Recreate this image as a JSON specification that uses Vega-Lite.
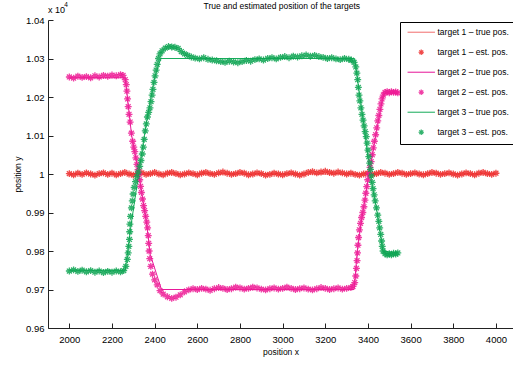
{
 "$schema": "https://vega.github.io/schema/vega-lite/v6.json",
 "width": 465,
 "height": 308,
 "autosize": {"type": "none"},
 "padding": {"left": 48, "top": 20, "right": 0, "bottom": 40},
 "background": "white",
 "config": {
  "view": {"stroke": null},
  "font": "Liberation Sans",
  "axis": {"domainColor": "#222222", "tickColor": "#222222", "labelColor": "black", "titleColor": "black", "labelFont": "Liberation Sans", "titleFont": "Liberation Sans", "labelFontSize": 9.5, "titleFontSize": 8.5, "titleFontWeight": "normal", "grid": false, "tickSize": -5, "domainWidth": 1, "tickWidth": 1, "labelOverlap": false}
 },
 "datasets": {
  "truth": [
   {"s": "t1", "x": 2000, "y": 10000}, {"s": "t1", "x": 4000, "y": 10000},
   {"s": "t2", "x": 2000, "y": 10250}, {"s": "t2", "x": 2262, "y": 10250}, {"s": "t2", "x": 2292, "y": 10100}, {"s": "t2", "x": 2326, "y": 10000}, {"s": "t2", "x": 2360, "y": 9880}, {"s": "t2", "x": 2380, "y": 9790}, {"s": "t2", "x": 2432, "y": 9700}, {"s": "t2", "x": 3335, "y": 9700}, {"s": "t2", "x": 3350, "y": 9800}, {"s": "t2", "x": 3370, "y": 9880}, {"s": "t2", "x": 3405, "y": 10000}, {"s": "t2", "x": 3440, "y": 10110}, {"s": "t2", "x": 3470, "y": 10200}, {"s": "t2", "x": 3478, "y": 10210}, {"s": "t2", "x": 3540, "y": 10210},
   {"s": "t3", "x": 2000, "y": 9750}, {"s": "t3", "x": 2262, "y": 9750}, {"s": "t3", "x": 2290, "y": 9870}, {"s": "t3", "x": 2325, "y": 10000}, {"s": "t3", "x": 2360, "y": 10130}, {"s": "t3", "x": 2400, "y": 10250}, {"s": "t3", "x": 2428, "y": 10300}, {"s": "t3", "x": 3338, "y": 10300}, {"s": "t3", "x": 3355, "y": 10230}, {"s": "t3", "x": 3380, "y": 10130}, {"s": "t3", "x": 3410, "y": 10000}, {"s": "t3", "x": 3440, "y": 9910}, {"s": "t3", "x": 3470, "y": 9800}, {"s": "t3", "x": 3540, "y": 9795}
  ],
  "est": [
   {"s": "e1", "x": 2000, "y": 10001}, {"s": "e1", "x": 2020, "y": 9998}, {"s": "e1", "x": 2040, "y": 10002}, {"s": "e1", "x": 2060, "y": 9999}, {"s": "e1", "x": 2080, "y": 10003}, {"s": "e1", "x": 2100, "y": 10000}, {"s": "e1", "x": 2120, "y": 9997}, {"s": "e1", "x": 2140, "y": 10001}, {"s": "e1", "x": 2160, "y": 10003}, {"s": "e1", "x": 2180, "y": 9999}, {"s": "e1", "x": 2200, "y": 10002}, {"s": "e1", "x": 2220, "y": 9998}, {"s": "e1", "x": 2240, "y": 10001}, {"s": "e1", "x": 2260, "y": 10004}, {"s": "e1", "x": 2280, "y": 10000}, {"s": "e1", "x": 2300, "y": 9997}, {"s": "e1", "x": 2320, "y": 10001}, {"s": "e1", "x": 2340, "y": 10003}, {"s": "e1", "x": 2360, "y": 9999}, {"s": "e1", "x": 2380, "y": 10001}, {"s": "e1", "x": 2400, "y": 10004}, {"s": "e1", "x": 2420, "y": 10000}, {"s": "e1", "x": 2440, "y": 9998}, {"s": "e1", "x": 2460, "y": 10002}, {"s": "e1", "x": 2480, "y": 10004}, {"s": "e1", "x": 2500, "y": 10001}, {"s": "e1", "x": 2520, "y": 9998}, {"s": "e1", "x": 2540, "y": 10000}, {"s": "e1", "x": 2560, "y": 10003}, {"s": "e1", "x": 2580, "y": 10001}, {"s": "e1", "x": 2600, "y": 9998}, {"s": "e1", "x": 2620, "y": 10002}, {"s": "e1", "x": 2640, "y": 10004}, {"s": "e1", "x": 2660, "y": 10001}, {"s": "e1", "x": 2680, "y": 9999}, {"s": "e1", "x": 2700, "y": 10003}, {"s": "e1", "x": 2720, "y": 10005}, {"s": "e1", "x": 2740, "y": 10002}, {"s": "e1", "x": 2760, "y": 9999}, {"s": "e1", "x": 2780, "y": 10001}, {"s": "e1", "x": 2800, "y": 10004}, {"s": "e1", "x": 2820, "y": 10002}, {"s": "e1", "x": 2840, "y": 9998}, {"s": "e1", "x": 2860, "y": 10000}, {"s": "e1", "x": 2880, "y": 10003}, {"s": "e1", "x": 2900, "y": 10001}, {"s": "e1", "x": 2920, "y": 9997}, {"s": "e1", "x": 2940, "y": 9999}, {"s": "e1", "x": 2960, "y": 10002}, {"s": "e1", "x": 2980, "y": 10000}, {"s": "e1", "x": 3000, "y": 9998}, {"s": "e1", "x": 3020, "y": 10001}, {"s": "e1", "x": 3040, "y": 10003}, {"s": "e1", "x": 3060, "y": 10000}, {"s": "e1", "x": 3080, "y": 9997}, {"s": "e1", "x": 3100, "y": 10000}, {"s": "e1", "x": 3120, "y": 10004}, {"s": "e1", "x": 3140, "y": 10006}, {"s": "e1", "x": 3160, "y": 10003}, {"s": "e1", "x": 3180, "y": 10005}, {"s": "e1", "x": 3200, "y": 10007}, {"s": "e1", "x": 3220, "y": 10004}, {"s": "e1", "x": 3240, "y": 10002}, {"s": "e1", "x": 3260, "y": 10005}, {"s": "e1", "x": 3280, "y": 10003}, {"s": "e1", "x": 3300, "y": 10000}, {"s": "e1", "x": 3320, "y": 10002}, {"s": "e1", "x": 3340, "y": 9999}, {"s": "e1", "x": 3360, "y": 9997}, {"s": "e1", "x": 3380, "y": 10000}, {"s": "e1", "x": 3400, "y": 10002}, {"s": "e1", "x": 3420, "y": 9999}, {"s": "e1", "x": 3440, "y": 10001}, {"s": "e1", "x": 3460, "y": 10004}, {"s": "e1", "x": 3480, "y": 10002}, {"s": "e1", "x": 3500, "y": 9999}, {"s": "e1", "x": 3520, "y": 10001}, {"s": "e1", "x": 3540, "y": 10004}, {"s": "e1", "x": 3560, "y": 10002}, {"s": "e1", "x": 3580, "y": 9999}, {"s": "e1", "x": 3600, "y": 10001}, {"s": "e1", "x": 3620, "y": 10003}, {"s": "e1", "x": 3640, "y": 10000}, {"s": "e1", "x": 3660, "y": 9998}, {"s": "e1", "x": 3680, "y": 10001}, {"s": "e1", "x": 3700, "y": 10004}, {"s": "e1", "x": 3720, "y": 10002}, {"s": "e1", "x": 3740, "y": 9999}, {"s": "e1", "x": 3760, "y": 10001}, {"s": "e1", "x": 3780, "y": 10003}, {"s": "e1", "x": 3800, "y": 10000}, {"s": "e1", "x": 3820, "y": 9997}, {"s": "e1", "x": 3840, "y": 10000}, {"s": "e1", "x": 3860, "y": 10003}, {"s": "e1", "x": 3880, "y": 10001}, {"s": "e1", "x": 3900, "y": 9998}, {"s": "e1", "x": 3920, "y": 10002}, {"s": "e1", "x": 3940, "y": 10004}, {"s": "e1", "x": 3960, "y": 10001}, {"s": "e1", "x": 3980, "y": 9999}, {"s": "e1", "x": 4000, "y": 10002},
   {"s": "e2", "x": 2000, "y": 10252}, {"s": "e2", "x": 2020, "y": 10249}, {"s": "e2", "x": 2040, "y": 10254}, {"s": "e2", "x": 2060, "y": 10251}, {"s": "e2", "x": 2080, "y": 10253}, {"s": "e2", "x": 2100, "y": 10250}, {"s": "e2", "x": 2120, "y": 10255}, {"s": "e2", "x": 2140, "y": 10252}, {"s": "e2", "x": 2160, "y": 10256}, {"s": "e2", "x": 2180, "y": 10254}, {"s": "e2", "x": 2200, "y": 10257}, {"s": "e2", "x": 2220, "y": 10255}, {"s": "e2", "x": 2240, "y": 10258}, {"s": "e2", "x": 2252, "y": 10256}, {"s": "e2", "x": 2262, "y": 10245}, {"s": "e2", "x": 2267, "y": 10232}, {"s": "e2", "x": 2270, "y": 10215}, {"s": "e2", "x": 2273, "y": 10195}, {"s": "e2", "x": 2276, "y": 10175}, {"s": "e2", "x": 2280, "y": 10155}, {"s": "e2", "x": 2285, "y": 10135}, {"s": "e2", "x": 2291, "y": 10106}, {"s": "e2", "x": 2297, "y": 10085}, {"s": "e2", "x": 2302, "y": 10070}, {"s": "e2", "x": 2307, "y": 10058}, {"s": "e2", "x": 2312, "y": 10042}, {"s": "e2", "x": 2317, "y": 10025}, {"s": "e2", "x": 2322, "y": 10011}, {"s": "e2", "x": 2326, "y": 10000}, {"s": "e2", "x": 2330, "y": 9985}, {"s": "e2", "x": 2334, "y": 9968}, {"s": "e2", "x": 2338, "y": 9952}, {"s": "e2", "x": 2343, "y": 9935}, {"s": "e2", "x": 2348, "y": 9918}, {"s": "e2", "x": 2353, "y": 9905}, {"s": "e2", "x": 2358, "y": 9890}, {"s": "e2", "x": 2363, "y": 9875}, {"s": "e2", "x": 2367, "y": 9860}, {"s": "e2", "x": 2370, "y": 9840}, {"s": "e2", "x": 2372, "y": 9820}, {"s": "e2", "x": 2374, "y": 9800}, {"s": "e2", "x": 2377, "y": 9780}, {"s": "e2", "x": 2382, "y": 9760}, {"s": "e2", "x": 2390, "y": 9740}, {"s": "e2", "x": 2400, "y": 9725}, {"s": "e2", "x": 2412, "y": 9712}, {"s": "e2", "x": 2425, "y": 9697}, {"s": "e2", "x": 2440, "y": 9688}, {"s": "e2", "x": 2460, "y": 9681}, {"s": "e2", "x": 2480, "y": 9677}, {"s": "e2", "x": 2500, "y": 9680}, {"s": "e2", "x": 2520, "y": 9686}, {"s": "e2", "x": 2540, "y": 9694},
   {"s": "e2", "x": 2560, "y": 9699}, {"s": "e2", "x": 2580, "y": 9702}, {"s": "e2", "x": 2600, "y": 9700}, {"s": "e2", "x": 2620, "y": 9703}, {"s": "e2", "x": 2640, "y": 9701}, {"s": "e2", "x": 2660, "y": 9698}, {"s": "e2", "x": 2680, "y": 9702}, {"s": "e2", "x": 2700, "y": 9705}, {"s": "e2", "x": 2720, "y": 9703}, {"s": "e2", "x": 2740, "y": 9700}, {"s": "e2", "x": 2760, "y": 9702}, {"s": "e2", "x": 2780, "y": 9706}, {"s": "e2", "x": 2800, "y": 9704}, {"s": "e2", "x": 2820, "y": 9701}, {"s": "e2", "x": 2840, "y": 9703}, {"s": "e2", "x": 2860, "y": 9706}, {"s": "e2", "x": 2880, "y": 9704}, {"s": "e2", "x": 2900, "y": 9701}, {"s": "e2", "x": 2920, "y": 9699}, {"s": "e2", "x": 2940, "y": 9702}, {"s": "e2", "x": 2960, "y": 9704}, {"s": "e2", "x": 2980, "y": 9701}, {"s": "e2", "x": 3000, "y": 9703}, {"s": "e2", "x": 3020, "y": 9706}, {"s": "e2", "x": 3040, "y": 9703}, {"s": "e2", "x": 3060, "y": 9700}, {"s": "e2", "x": 3080, "y": 9702}, {"s": "e2", "x": 3100, "y": 9704}, {"s": "e2", "x": 3120, "y": 9701}, {"s": "e2", "x": 3140, "y": 9699}, {"s": "e2", "x": 3160, "y": 9702}, {"s": "e2", "x": 3180, "y": 9705}, {"s": "e2", "x": 3200, "y": 9703}, {"s": "e2", "x": 3220, "y": 9700}, {"s": "e2", "x": 3240, "y": 9702}, {"s": "e2", "x": 3260, "y": 9704}, {"s": "e2", "x": 3280, "y": 9701}, {"s": "e2", "x": 3300, "y": 9703}, {"s": "e2", "x": 3320, "y": 9705},
   {"s": "e2", "x": 3330, "y": 9708}, {"s": "e2", "x": 3338, "y": 9718}, {"s": "e2", "x": 3343, "y": 9735}, {"s": "e2", "x": 3346, "y": 9755}, {"s": "e2", "x": 3349, "y": 9775}, {"s": "e2", "x": 3351, "y": 9795}, {"s": "e2", "x": 3353, "y": 9815}, {"s": "e2", "x": 3356, "y": 9835}, {"s": "e2", "x": 3360, "y": 9855}, {"s": "e2", "x": 3365, "y": 9872}, {"s": "e2", "x": 3370, "y": 9887}, {"s": "e2", "x": 3376, "y": 9900}, {"s": "e2", "x": 3381, "y": 9915}, {"s": "e2", "x": 3386, "y": 9932}, {"s": "e2", "x": 3390, "y": 9950}, {"s": "e2", "x": 3394, "y": 9967}, {"s": "e2", "x": 3399, "y": 9985}, {"s": "e2", "x": 3405, "y": 10000}, {"s": "e2", "x": 3410, "y": 10017}, {"s": "e2", "x": 3415, "y": 10032}, {"s": "e2", "x": 3420, "y": 10050}, {"s": "e2", "x": 3425, "y": 10068}, {"s": "e2", "x": 3430, "y": 10085}, {"s": "e2", "x": 3436, "y": 10102}, {"s": "e2", "x": 3441, "y": 10120}, {"s": "e2", "x": 3446, "y": 10138}, {"s": "e2", "x": 3451, "y": 10152}, {"s": "e2", "x": 3456, "y": 10168}, {"s": "e2", "x": 3461, "y": 10182}, {"s": "e2", "x": 3466, "y": 10195}, {"s": "e2", "x": 3472, "y": 10205}, {"s": "e2", "x": 3480, "y": 10212}, {"s": "e2", "x": 3490, "y": 10214}, {"s": "e2", "x": 3500, "y": 10211}, {"s": "e2", "x": 3510, "y": 10214}, {"s": "e2", "x": 3520, "y": 10212}, {"s": "e2", "x": 3530, "y": 10213}, {"s": "e2", "x": 3540, "y": 10211},
   {"s": "e3", "x": 2000, "y": 9748}, {"s": "e3", "x": 2020, "y": 9751}, {"s": "e3", "x": 2040, "y": 9747}, {"s": "e3", "x": 2060, "y": 9750}, {"s": "e3", "x": 2080, "y": 9746}, {"s": "e3", "x": 2100, "y": 9749}, {"s": "e3", "x": 2120, "y": 9745}, {"s": "e3", "x": 2140, "y": 9748}, {"s": "e3", "x": 2160, "y": 9744}, {"s": "e3", "x": 2180, "y": 9747}, {"s": "e3", "x": 2200, "y": 9745}, {"s": "e3", "x": 2220, "y": 9748}, {"s": "e3", "x": 2240, "y": 9746}, {"s": "e3", "x": 2255, "y": 9749}, {"s": "e3", "x": 2265, "y": 9760}, {"s": "e3", "x": 2272, "y": 9778}, {"s": "e3", "x": 2276, "y": 9795}, {"s": "e3", "x": 2279, "y": 9812}, {"s": "e3", "x": 2282, "y": 9830}, {"s": "e3", "x": 2283, "y": 9850}, {"s": "e3", "x": 2284, "y": 9870}, {"s": "e3", "x": 2287, "y": 9890}, {"s": "e3", "x": 2291, "y": 9912}, {"s": "e3", "x": 2295, "y": 9930}, {"s": "e3", "x": 2299, "y": 9948}, {"s": "e3", "x": 2304, "y": 9965}, {"s": "e3", "x": 2310, "y": 9980}, {"s": "e3", "x": 2317, "y": 9993}, {"s": "e3", "x": 2323, "y": 10005}, {"s": "e3", "x": 2330, "y": 10020}, {"s": "e3", "x": 2336, "y": 10035}, {"s": "e3", "x": 2342, "y": 10052}, {"s": "e3", "x": 2347, "y": 10070}, {"s": "e3", "x": 2351, "y": 10090}, {"s": "e3", "x": 2356, "y": 10112}, {"s": "e3", "x": 2361, "y": 10130}, {"s": "e3", "x": 2366, "y": 10148}, {"s": "e3", "x": 2372, "y": 10160}, {"s": "e3", "x": 2378, "y": 10172}, {"s": "e3", "x": 2383, "y": 10188}, {"s": "e3", "x": 2388, "y": 10205}, {"s": "e3", "x": 2392, "y": 10220}, {"s": "e3", "x": 2397, "y": 10238}, {"s": "e3", "x": 2402, "y": 10255}, {"s": "e3", "x": 2407, "y": 10270}, {"s": "e3", "x": 2412, "y": 10285}, {"s": "e3", "x": 2418, "y": 10300}, {"s": "e3", "x": 2425, "y": 10312}, {"s": "e3", "x": 2435, "y": 10320}, {"s": "e3", "x": 2450, "y": 10327}, {"s": "e3", "x": 2465, "y": 10331}, {"s": "e3", "x": 2480, "y": 10330}, {"s": "e3", "x": 2495, "y": 10329}, {"s": "e3", "x": 2510, "y": 10326}, {"s": "e3", "x": 2525, "y": 10318}, {"s": "e3", "x": 2540, "y": 10312}, {"s": "e3", "x": 2555, "y": 10308}, {"s": "e3", "x": 2572, "y": 10304},
   {"s": "e3", "x": 2590, "y": 10301}, {"s": "e3", "x": 2610, "y": 10299}, {"s": "e3", "x": 2630, "y": 10302}, {"s": "e3", "x": 2650, "y": 10298}, {"s": "e3", "x": 2670, "y": 10296}, {"s": "e3", "x": 2690, "y": 10294}, {"s": "e3", "x": 2710, "y": 10292}, {"s": "e3", "x": 2730, "y": 10290}, {"s": "e3", "x": 2750, "y": 10293}, {"s": "e3", "x": 2770, "y": 10291}, {"s": "e3", "x": 2790, "y": 10289}, {"s": "e3", "x": 2810, "y": 10292}, {"s": "e3", "x": 2830, "y": 10295}, {"s": "e3", "x": 2850, "y": 10293}, {"s": "e3", "x": 2870, "y": 10297}, {"s": "e3", "x": 2890, "y": 10299}, {"s": "e3", "x": 2910, "y": 10296}, {"s": "e3", "x": 2930, "y": 10300}, {"s": "e3", "x": 2950, "y": 10302}, {"s": "e3", "x": 2970, "y": 10299}, {"s": "e3", "x": 2990, "y": 10303}, {"s": "e3", "x": 3010, "y": 10305}, {"s": "e3", "x": 3030, "y": 10302}, {"s": "e3", "x": 3050, "y": 10306}, {"s": "e3", "x": 3070, "y": 10304}, {"s": "e3", "x": 3090, "y": 10307}, {"s": "e3", "x": 3110, "y": 10309}, {"s": "e3", "x": 3130, "y": 10306}, {"s": "e3", "x": 3150, "y": 10308}, {"s": "e3", "x": 3170, "y": 10305}, {"s": "e3", "x": 3190, "y": 10303}, {"s": "e3", "x": 3210, "y": 10300}, {"s": "e3", "x": 3230, "y": 10302}, {"s": "e3", "x": 3250, "y": 10299}, {"s": "e3", "x": 3270, "y": 10297}, {"s": "e3", "x": 3290, "y": 10300}, {"s": "e3", "x": 3310, "y": 10298},
   {"s": "e3", "x": 3322, "y": 10296}, {"s": "e3", "x": 3335, "y": 10290}, {"s": "e3", "x": 3343, "y": 10278}, {"s": "e3", "x": 3348, "y": 10262}, {"s": "e3", "x": 3352, "y": 10245}, {"s": "e3", "x": 3355, "y": 10225}, {"s": "e3", "x": 3358, "y": 10205}, {"s": "e3", "x": 3362, "y": 10190}, {"s": "e3", "x": 3367, "y": 10172}, {"s": "e3", "x": 3372, "y": 10155}, {"s": "e3", "x": 3377, "y": 10140}, {"s": "e3", "x": 3382, "y": 10125}, {"s": "e3", "x": 3387, "y": 10110}, {"s": "e3", "x": 3392, "y": 10097}, {"s": "e3", "x": 3396, "y": 10080}, {"s": "e3", "x": 3400, "y": 10062}, {"s": "e3", "x": 3404, "y": 10045}, {"s": "e3", "x": 3408, "y": 10028}, {"s": "e3", "x": 3412, "y": 10012}, {"s": "e3", "x": 3416, "y": 9995}, {"s": "e3", "x": 3420, "y": 9978}, {"s": "e3", "x": 3424, "y": 9962}, {"s": "e3", "x": 3429, "y": 9946}, {"s": "e3", "x": 3434, "y": 9930}, {"s": "e3", "x": 3440, "y": 9912}, {"s": "e3", "x": 3446, "y": 9893}, {"s": "e3", "x": 3451, "y": 9877}, {"s": "e3", "x": 3455, "y": 9860}, {"s": "e3", "x": 3460, "y": 9843}, {"s": "e3", "x": 3464, "y": 9826}, {"s": "e3", "x": 3467, "y": 9812}, {"s": "e3", "x": 3471, "y": 9800}, {"s": "e3", "x": 3480, "y": 9793}, {"s": "e3", "x": 3490, "y": 9790}, {"s": "e3", "x": 3500, "y": 9793}, {"s": "e3", "x": 3510, "y": 9790}, {"s": "e3", "x": 3520, "y": 9794}, {"s": "e3", "x": 3530, "y": 9792}, {"s": "e3", "x": 3540, "y": 9795}
  ]
 },
 "layer": [
  {
   "data": {"name": "truth"},
   "mark": {"type": "line", "strokeWidth": 1, "clip": false},
   "encoding": {
    "x": {"field": "x", "type": "quantitative", "scale": {"domain": [1900, 4080], "nice": false, "zero": false}, "axis": {"values": [2000, 2200, 2400, 2600, 2800, 3000, 3200, 3400, 3600, 3800, 4000], "format": "d", "title": "position x", "labelPadding": 11, "titlePadding": 4}},
    "y": {"field": "y", "type": "quantitative", "scale": {"domain": [9600, 10400], "nice": false, "zero": false}, "axis": {"values": [9600, 9700, 9800, 9900, 10000, 10100, 10200, 10300, 10400], "labelExpr": "format(datum.value/10000, '.2~f')", "title": "position y", "labelPadding": 9, "titlePadding": 3}},
    "color": {"field": "s", "type": "nominal", "scale": {"domain": ["t1", "e1", "t2", "e2", "t3", "e3"], "range": ["#f27070", "#ee2a2a", "#e8189a", "#ee1c96", "#18ad5c", "#0ea553"]},
     "legend": {"orient": "none", "legendX": 352, "legendY": 2, "title": null, "labelExpr": "datum.label == 't1' ? 'target 1 – true pos.' : datum.label == 'e1' ? 'target 1 – est. pos.' : datum.label == 't2' ? 'target 2 – true pos.' : datum.label == 'e2' ? 'target 2 – est. pos.' : datum.label == 't3' ? 'target 3 – true pos.' : 'target 3 – est. pos.'", "strokeColor": "black", "fillColor": "white", "padding": 6, "symbolSize": 30, "symbolStrokeWidth": 1.2, "labelFontSize": 8.5, "labelFont": "Liberation Sans", "labelColor": "black", "rowPadding": 10, "symbolOffset": 11, "labelOffset": 12}}
   }
  },
  {
   "data": {"name": "est"},
   "mark": {"type": "point", "filled": false, "size": 48, "strokeWidth": 1.3, "opacity": 0.85, "clip": false},
   "encoding": {
    "x": {"field": "x", "type": "quantitative", "axis": {"values": [2000, 2200, 2400, 2600, 2800, 3000, 3200, 3400, 3600, 3800, 4000], "format": "d", "title": "position x", "labelPadding": 11, "titlePadding": 4}},
    "y": {"field": "y", "type": "quantitative", "axis": {"values": [9600, 9700, 9800, 9900, 10000, 10100, 10200, 10300, 10400], "labelExpr": "format(datum.value/10000, '.2~f')", "title": "position y", "labelPadding": 9, "titlePadding": 3}},
    "color": {"field": "s", "type": "nominal"},
    "shape": {"field": "s", "type": "nominal", "scale": {"domain": ["t1", "e1", "t2", "e2", "t3", "e3"], "range": ["M-5,0L5,0", "M-1,0L1,0M0,-1L0,1M-0.7,-0.7L0.7,0.7M-0.7,0.7L0.7,-0.7", "M-5,0L5,0", "M-1,0L1,0M0,-1L0,1M-0.7,-0.7L0.7,0.7M-0.7,0.7L0.7,-0.7", "M-5,0L5,0", "M-1,0L1,0M0,-1L0,1M-0.7,-0.7L0.7,0.7M-0.7,0.7L0.7,-0.7"]},
     "legend": {"orient": "none", "legendX": 352, "legendY": 2, "title": null, "labelExpr": "datum.label == 't1' ? 'target 1 – true pos.' : datum.label == 'e1' ? 'target 1 – est. pos.' : datum.label == 't2' ? 'target 2 – true pos.' : datum.label == 'e2' ? 'target 2 – est. pos.' : datum.label == 't3' ? 'target 3 – true pos.' : 'target 3 – est. pos.'", "strokeColor": "black", "fillColor": "white", "padding": 6, "symbolSize": 30, "symbolStrokeWidth": 1.2, "labelFontSize": 8.5, "labelFont": "Liberation Sans", "labelColor": "black", "rowPadding": 10, "symbolOffset": 11, "labelOffset": 12}}
   }
  },
  {
   "data": {"values": [{"t": "True and estimated position of the targets"}]},
   "mark": {"type": "text", "align": "center", "baseline": "middle", "fontSize": 8.5, "font": "Liberation Sans", "color": "black"},
   "encoding": {"text": {"field": "t"},
    "x": {"datum": 2996, "type": "quantitative", "axis": {"values": [2000, 2200, 2400, 2600, 2800, 3000, 3200, 3400, 3600, 3800, 4000], "format": "d", "title": "position x", "labelPadding": 11, "titlePadding": 4}},
    "y": {"datum": 10436, "type": "quantitative", "axis": {"values": [9600, 9700, 9800, 9900, 10000, 10100, 10200, 10300, 10400], "labelExpr": "format(datum.value/10000, '.2~f')", "title": "position y", "labelPadding": 9, "titlePadding": 3}}}
  },
  {
   "data": {"values": [{"t": "x 10"}]},
   "mark": {"type": "text", "align": "left", "baseline": "alphabetic", "fontSize": 9, "font": "Liberation Sans", "color": "black"},
   "encoding": {"text": {"field": "t"},
    "x": {"datum": 1900, "type": "quantitative", "axis": {"values": [2000, 2200, 2400, 2600, 2800, 3000, 3200, 3400, 3600, 3800, 4000], "format": "d", "title": "position x", "labelPadding": 11, "titlePadding": 4}},
    "y": {"datum": 10418, "type": "quantitative", "axis": {"values": [9600, 9700, 9800, 9900, 10000, 10100, 10200, 10300, 10400], "labelExpr": "format(datum.value/10000, '.2~f')", "title": "position y", "labelPadding": 9, "titlePadding": 3}}}
  },
  {
   "data": {"values": [{"t": "4"}]},
   "mark": {"type": "text", "align": "left", "baseline": "alphabetic", "fontSize": 6.5, "font": "Liberation Sans", "color": "black"},
   "encoding": {"text": {"field": "t"},
    "x": {"datum": 1976, "type": "quantitative", "axis": {"values": [2000, 2200, 2400, 2600, 2800, 3000, 3200, 3400, 3600, 3800, 4000], "format": "d", "title": "position x", "labelPadding": 11, "titlePadding": 4}},
    "y": {"datum": 10434, "type": "quantitative", "axis": {"values": [9600, 9700, 9800, 9900, 10000, 10100, 10200, 10300, 10400], "labelExpr": "format(datum.value/10000, '.2~f')", "title": "position y", "labelPadding": 9, "titlePadding": 3}}}
  }
 ]
}
